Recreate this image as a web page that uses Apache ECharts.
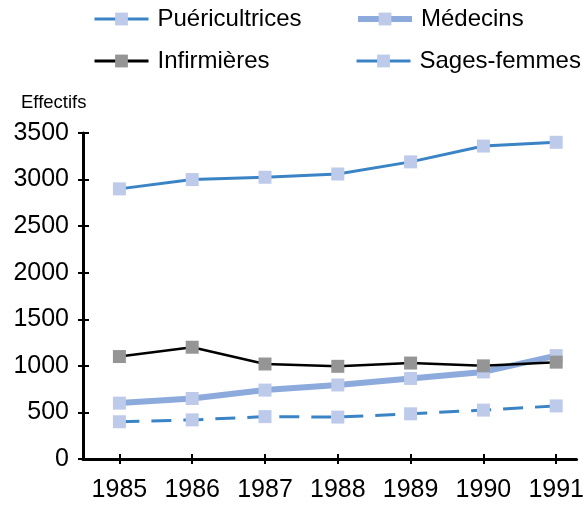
<!DOCTYPE html>
<html>
<head>
<meta charset="utf-8">
<script src="https://cdn.jsdelivr.net/npm/echarts@6/dist/echarts.min.js"></script>
<style>
  html, body { margin: 0; padding: 0; background: #fff; }
  #chart { width: 587px; height: 505px; }
</style>
</head>
<body>
<div id="chart"></div>
<script>
const years = [1985, 1986, 1987, 1988, 1989, 1990, 1991]
const puericultrices = [2900, 3000, 3025, 3060, 3190, 3360, 3400]
const medecins = [600, 650, 740, 795, 865, 935, 1110]
const infirmieres = [1100, 1200, 1020, 995, 1030, 1000, 1040]
const sagesFemmes = [400, 420, 455, 450, 485, 525, 570]

const font = "Liberation Sans, Arial, sans-serif"
const pts = (vals) => years.map((y, i) => [y, vals[i]])

const legendBase = {
  padding: 0,
  itemWidth: 54,
  itemHeight: 16,
  itemGap: 0,
  textStyle: { fontFamily: font, fontSize: 24, color: "#000", padding: [0, 0, 0, 4] },
}

const chart = echarts.init(document.getElementById("chart"))

chart.setOption({
  animation: false,
  title: {
    text: "Effectifs",
    left: 21,
    top: 93,
    padding: 0,
    textStyle: { fontFamily: font, fontSize: 18.5, fontWeight: "normal", color: "#000" },
  },
  legend: [
    { ...legendBase, data: ["Puéricultrices"], left: 93, top: 7, lineStyle: { width: 3 } },
    { ...legendBase, data: ["Médecins"], left: 355, top: 7, lineStyle: { width: 6 } },
    { ...legendBase, data: ["Infirmières"], left: 93, top: 49, lineStyle: { width: 3 } },
    { ...legendBase, data: ["Sages-femmes"], left: 355, top: 49, lineStyle: { type: "solid", width: 3 } },
  ],
  grid: { left: 83, right: 8, top: 133, bottom: 46 },
  xAxis: [
    {
      type: "value",
      min: 1984.5,
      max: 1991.28,
      axisLine: { lineStyle: { color: "#000", width: 3 } },
      axisTick: { show: true, length: 5, lineStyle: { color: "#000", width: 2 }, customValues: years },
      axisLabel: {
        customValues: years,
        margin: 19,
        fontFamily: font,
        fontSize: 25,
        color: "#000",
        formatter: (v) => String(v),
      },
      splitLine: { show: false },
    },
    {
      type: "value",
      position: "bottom",
      min: 1984.5,
      max: 1991.28,
      axisLine: { show: false },
      axisTick: { show: true, inside: true, length: 5, lineStyle: { color: "#000", width: 2 }, customValues: years },
      axisLabel: { show: false },
      splitLine: { show: false },
    },
  ],
  yAxis: [
    {
      type: "value",
      min: 0,
      max: 3500,
      interval: 500,
      axisLine: { show: true, lineStyle: { color: "#000", width: 3 } },
      axisTick: { show: true, length: 5, lineStyle: { color: "#000", width: 2 } },
      axisLabel: {
        margin: 14,
        fontFamily: font,
        fontSize: 25,
        color: "#000",
        formatter: (v) => String(v),
      },
      splitLine: { show: false },
    },
    {
      type: "value",
      position: "left",
      min: 0,
      max: 3500,
      interval: 500,
      axisLine: { show: false },
      axisTick: { show: true, inside: true, length: 6, lineStyle: { color: "#000", width: 2 } },
      axisLabel: { show: false },
      splitLine: { show: false },
    },
  ],
  series: [
    {
      name: "Puéricultrices",
      type: "line",
      data: pts(puericultrices),
      symbol: "rect",
      symbolSize: 13,
      lineStyle: { color: "#3a84c6", width: 3 },
      itemStyle: { color: "#bdcae9" },
    },
    {
      name: "Médecins",
      type: "line",
      data: pts(medecins),
      symbol: "rect",
      symbolSize: 13,
      lineStyle: { color: "#8caadb", width: 6 },
      itemStyle: { color: "#bdcae9" },
    },
    {
      name: "Sages-femmes",
      type: "line",
      data: pts(sagesFemmes),
      symbol: "rect",
      symbolSize: 13,
      lineStyle: { color: "#3a84c6", width: 3, type: [20, 12] },
      itemStyle: { color: "#bdcae9" },
    },
    {
      name: "Infirmières",
      type: "line",
      data: pts(infirmieres),
      symbol: "rect",
      symbolSize: 13,
      lineStyle: { color: "#000", width: 2.5 },
      itemStyle: { color: "#959595" },
    },
  ],
})
</script>
</body>
</html>
